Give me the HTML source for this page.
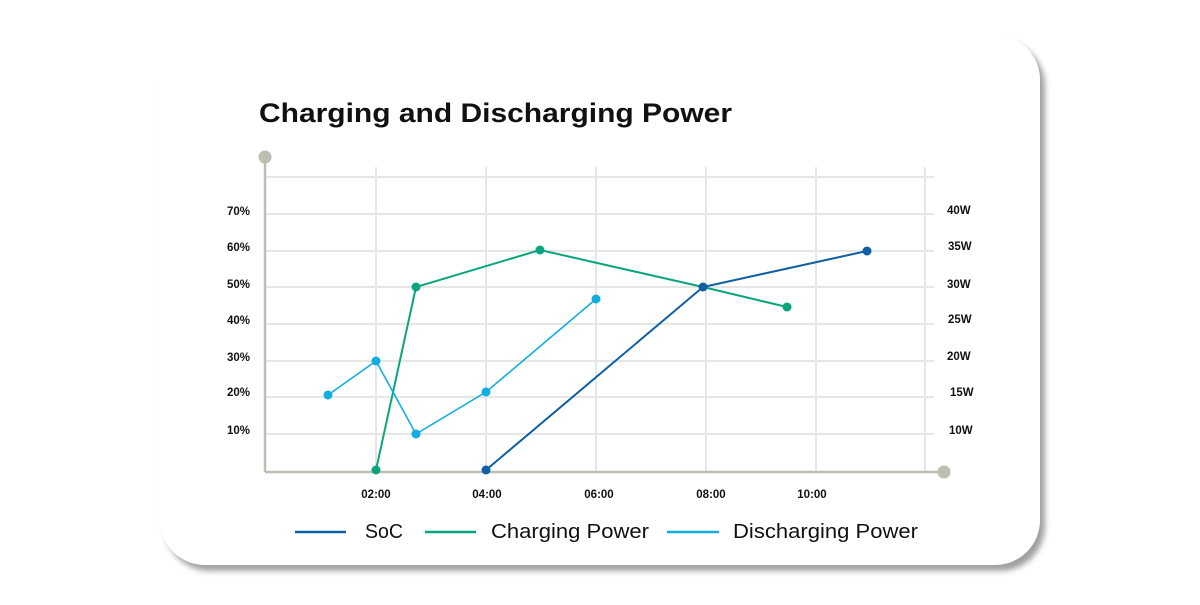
<!DOCTYPE html>
<html><head><style>
body{margin:0;background:#fff;width:1200px;height:600px;overflow:hidden;font-family:"Liberation Sans",sans-serif;}
</style></head><body>
<svg width="1200" height="600" viewBox="0 0 1200 600" xmlns="http://www.w3.org/2000/svg">
<defs><filter id="sh" x="-10%" y="-10%" width="120%" height="130%"><feDropShadow dx="5" dy="6" stdDeviation="3" flood-color="#888" flood-opacity="0.8"/></filter></defs>
<rect x="160" y="35" width="880" height="530" rx="45" fill="#fff" filter="url(#sh)"/>
<text x="259" y="122" font-size="27" font-weight="bold" fill="#111" textLength="473" lengthAdjust="spacingAndGlyphs">Charging and Discharging Power</text>
<g stroke="#e6e6e6" stroke-width="2">
<line x1="266" y1="177" x2="934" y2="177"/><line x1="266" y1="214" x2="934" y2="214"/>
<line x1="266" y1="251" x2="934" y2="251"/><line x1="266" y1="287" x2="934" y2="287"/>
<line x1="266" y1="324" x2="934" y2="324"/><line x1="266" y1="361" x2="934" y2="361"/>
<line x1="266" y1="397" x2="934" y2="397"/><line x1="266" y1="434" x2="934" y2="434"/>
<line x1="376" y1="167" x2="376" y2="472"/><line x1="486" y1="167" x2="486" y2="472"/>
<line x1="596" y1="167" x2="596" y2="472"/><line x1="706" y1="167" x2="706" y2="472"/>
<line x1="816" y1="167" x2="816" y2="472"/><line x1="925" y1="167" x2="925" y2="472"/>
</g>
<g stroke="#bebdb2" stroke-width="2.5"><line x1="265" y1="157" x2="265" y2="472"/><line x1="265" y1="472" x2="944" y2="472"/></g>
<circle cx="265" cy="157" r="6.5" fill="#bebdb2"/><circle cx="944" cy="472" r="6.5" fill="#bebdb2"/>
<g font-size="11.5" font-weight="bold" fill="#111" text-anchor="end">
<text x="250" y="215">70%</text><text x="250" y="251">60%</text><text x="250" y="288">50%</text><text x="250" y="324">40%</text><text x="250" y="361">30%</text><text x="250" y="396">20%</text><text x="250" y="434">10%</text>
</g>
<g font-size="11.5" font-weight="bold" fill="#111">
<text x="947" y="214">40W</text><text x="948" y="250">35W</text><text x="947" y="288">30W</text><text x="948" y="323">25W</text><text x="947" y="360">20W</text><text x="950" y="396">15W</text><text x="949" y="434">10W</text>
</g>
<g font-size="11.5" font-weight="bold" fill="#111" text-anchor="middle">
<text x="376" y="498">02:00</text><text x="487" y="498">04:00</text><text x="599" y="498">06:00</text><text x="711" y="498">08:00</text><text x="812" y="498">10:00</text>
</g>
<g fill="none" stroke-width="2">
<polyline stroke="#0e5fa3" points="486,470 703,287 867,251"/>
<polyline stroke="#0aa57f" points="376,470 416,287 540,250 703,287 787,307"/>
<polyline stroke="#12aee2" stroke-width="1.6" points="328,395 376,361 416,434 486,392 596,299"/>
</g>
<g fill="#0aa57f"><circle cx="376" cy="470" r="4.5"/><circle cx="416" cy="287" r="4.5"/><circle cx="540" cy="250" r="4.5"/><circle cx="787" cy="307" r="4.5"/></g>
<g fill="#12aee2"><circle cx="328" cy="395" r="4.5"/><circle cx="376" cy="361" r="4.5"/><circle cx="416" cy="434" r="4.5"/><circle cx="486" cy="392" r="4.5"/><circle cx="596" cy="299" r="4.5"/></g>
<g fill="#0e5fa3"><circle cx="486" cy="470" r="4.5"/><circle cx="703" cy="287" r="4.5"/><circle cx="867" cy="251" r="4.5"/></g>
<g stroke-width="2.5"><line x1="295" y1="532" x2="346" y2="532" stroke="#0e5fa3"/><line x1="425" y1="532" x2="476" y2="532" stroke="#0aa57f"/><line x1="667" y1="532" x2="719" y2="532" stroke="#12aee2"/></g>
<g font-size="20" fill="#111"><text x="365" y="538" textLength="38" lengthAdjust="spacingAndGlyphs">SoC</text><text x="491" y="538" textLength="158" lengthAdjust="spacingAndGlyphs">Charging Power</text><text x="733" y="538" textLength="185" lengthAdjust="spacingAndGlyphs">Discharging Power</text></g>
</svg>
</body></html>
